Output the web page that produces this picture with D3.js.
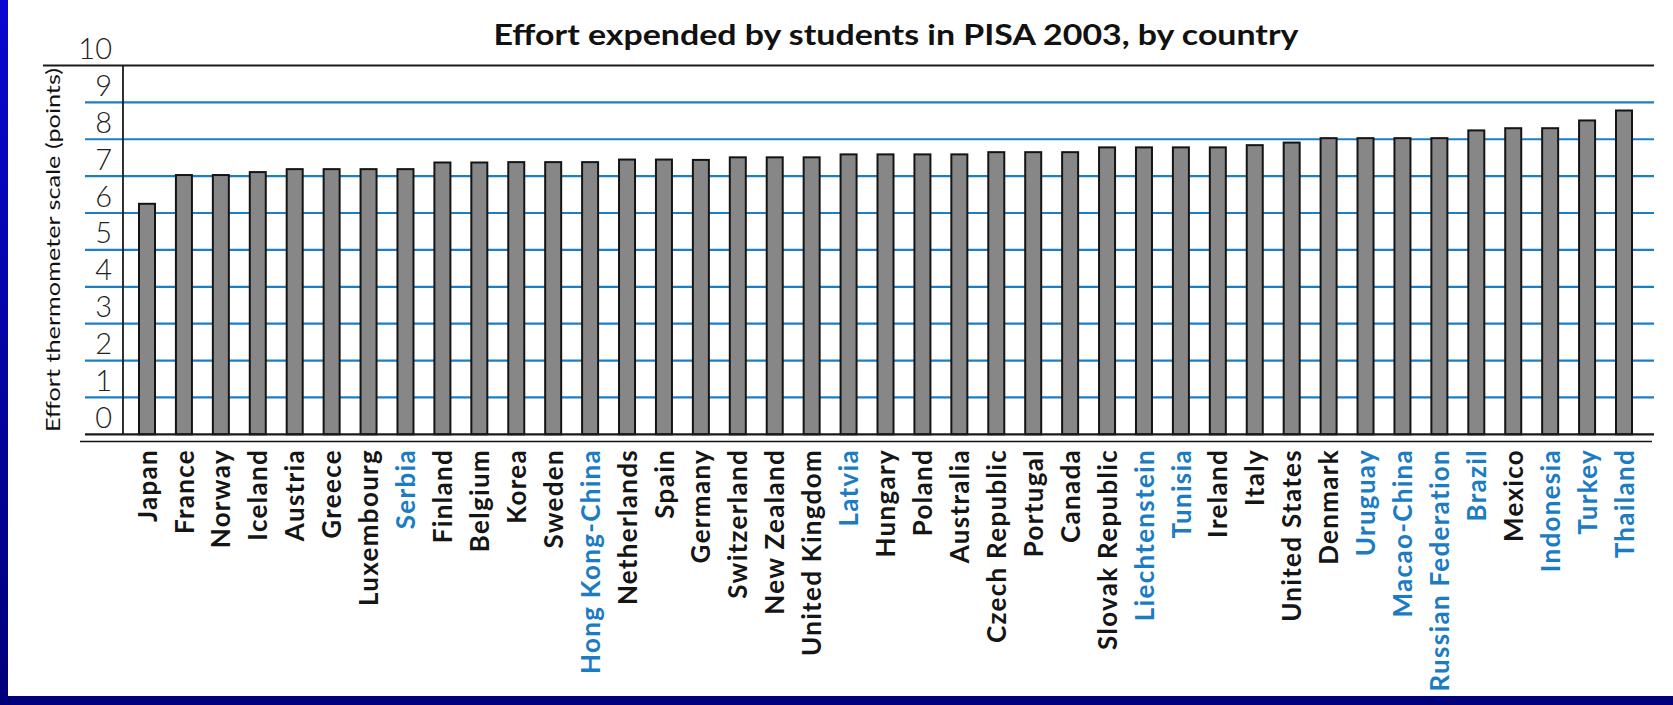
<!DOCTYPE html>
<html>
<head>
<meta charset="utf-8">
<script src="https://cdn.jsdelivr.net/npm/d3@7/dist/d3.min.js"></script>
<style>
  html, body { margin: 0; padding: 0; background: #0000b0; }
  svg { display: block; }
</style>
</head>
<body>
<script>
// Effort thermometer scores, PISA 2003, sorted from lowest to highest
const countries = [
  "Japan", "France", "Norway", "Iceland", "Austria", "Greece", "Luxembourg", "Serbia",
  "Finland", "Belgium", "Korea", "Sweden", "Hong Kong-China", "Netherlands", "Spain",
  "Germany", "Switzerland", "New Zealand", "United Kingdom", "Latvia", "Hungary", "Poland",
  "Australia", "Czech Republic", "Portugal", "Canada", "Slovak Republic", "Liechtenstein",
  "Tunisia", "Ireland", "Italy", "United States", "Denmark", "Uruguay", "Macao-China",
  "Russian Federation", "Brazil", "Mexico", "Indonesia", "Turkey", "Thailand"
];
const effort = [
  6.25, 7.03, 7.03, 7.11, 7.19, 7.19, 7.19, 7.19,
  7.37, 7.37, 7.38, 7.38, 7.38, 7.45, 7.45,
  7.44, 7.51, 7.51, 7.51, 7.59, 7.59, 7.59,
  7.59, 7.65, 7.65, 7.65, 7.78, 7.78,
  7.78, 7.78, 7.84, 7.91, 8.03, 8.03, 8.03,
  8.03, 8.24, 8.30, 8.30, 8.51, 8.78
];
// Partner (non-OECD) countries are labelled in blue
const partners = [
  "Serbia", "Hong Kong-China", "Latvia", "Liechtenstein", "Tunisia", "Uruguay",
  "Macao-China", "Russian Federation", "Brazil", "Indonesia", "Turkey", "Thailand"
];
const yTickValues = [0, 1, 2, 3, 4, 5, 6, 7, 8, 9, 10];
const gridValues = [1, 2, 3, 4, 5, 6, 7, 8, 9];

const titleText = "Effort expended by students in PISA 2003, by country";
const yTitleText = "Effort thermometer scale (points)";

const W = 1673, H = 705;
const data = countries.map((c, i) => ({ country: c, value: effort[i] }));

const svg = d3.select("body").append("svg")
  .attr("width", W).attr("height", H);

// Slide background and white panel
const defs = svg.append("defs");
const grad = defs.append("linearGradient").attr("id", "bg")
  .attr("x1", 0).attr("y1", 0).attr("x2", 0).attr("y2", 1);
grad.append("stop").attr("offset", "0%").attr("stop-color", "#0808d0");
grad.append("stop").attr("offset", "100%").attr("stop-color", "#00007a");
svg.append("rect").attr("width", W).attr("height", H).attr("fill", "url(#bg)");
svg.append("rect").attr("x", 8).attr("y", 0).attr("width", W - 8).attr("height", 696)
  .attr("fill", "#ffffff");

// Scales
const x = d3.scalePoint().domain(countries).range([147, 1624]);
const y = d3.scaleLinear().domain([0, 10]).range([434.3, 65.5]);
const barW = 16;
const gridLeft = 85, gridRight = 1654;

// Blue gridlines
svg.append("g").selectAll("line").data(gridValues).join("line")
  .attr("x1", gridLeft).attr("x2", gridRight)
  .attr("y1", d => y(d)).attr("y2", d => y(d))
  .attr("stroke", "#1c7fc6").attr("stroke-width", 2.2);

// Top frame line
svg.append("line")
  .attr("x1", 43).attr("x2", gridRight)
  .attr("y1", y(10)).attr("y2", y(10))
  .attr("stroke", "#1a1a1a").attr("stroke-width", 2);

// Bars
svg.append("g").selectAll("rect").data(data).join("rect")
  .attr("x", d => x(d.country) - barW / 2)
  .attr("y", d => y(d.value))
  .attr("width", barW)
  .attr("height", d => y(0) - y(d.value))
  .attr("fill", "#878787")
  .attr("stroke", "#141414")
  .attr("stroke-width", 2);

// Vertical axis line
svg.append("line")
  .attr("x1", 123).attr("x2", 123)
  .attr("y1", y(10)).attr("y2", y(0))
  .attr("stroke", "#1a1a1a").attr("stroke-width", 1.8);

// Baseline and the second rule beneath it
svg.append("line")
  .attr("x1", 85).attr("x2", gridRight)
  .attr("y1", y(0)).attr("y2", y(0))
  .attr("stroke", "#1a1a1a").attr("stroke-width", 2.2);
svg.append("line")
  .attr("x1", 80).attr("x2", 1652)
  .attr("y1", 441.5).attr("y2", 441.5)
  .attr("stroke", "#111111").attr("stroke-width", 1.6);

// Y tick labels sit in the band above each line
const step = y(0) - y(1);
const yAxis = d3.axisLeft(y).tickValues(yTickValues).tickSize(0).tickPadding(0)
  .tickFormat(d3.format("d"));
const gy = svg.append("g").attr("transform", "translate(112,0)").call(yAxis);
gy.select(".domain").remove();
gy.selectAll("text")
  .attr("x", 0)
  .attr("dy", null)
  .attr("y", -step / 2)
  .attr("dominant-baseline", "central")
  .attr("font-family", "Lato, 'Open Sans', sans-serif")
  .attr("font-size", 29)
  .attr("font-weight", 300)
  .attr("fill", "#222");

// Country labels, rotated
const xAxis = d3.axisBottom(x).tickSize(0).tickPadding(0);
const gx = svg.append("g").attr("transform", "translate(0,449)").call(xAxis);
gx.select(".domain").remove();
gx.selectAll("text")
  .attr("transform", "rotate(-90)")
  .attr("x", 0).attr("y", 0).attr("dy", "0.35em")
  .attr("text-anchor", "end")
  .attr("font-family", "Lato, 'Open Sans', sans-serif")
  .attr("font-size", 26)
  .attr("letter-spacing", 1.3)
  .attr("font-weight", 700)
  .attr("fill", d => partners.includes(d) ? "#1b7cc4" : "#151515");

// Title
svg.append("text")
  .attr("x", 896).attr("y", 45)
  .attr("text-anchor", "middle")
  .attr("font-family", "Lato, 'Open Sans', sans-serif")
  .attr("font-size", 29)
  .attr("font-weight", 700)
  .attr("fill", "#111")
  .attr("textLength", 805)
  .attr("lengthAdjust", "spacingAndGlyphs")
  .text(titleText);

// Vertical axis title
svg.append("text")
  .attr("transform", "translate(60,250) rotate(-90)")
  .attr("text-anchor", "middle")
  .attr("font-family", "Lato, 'Open Sans', sans-serif")
  .attr("font-size", 20)
  .attr("fill", "#111")
  .attr("textLength", 364)
  .attr("lengthAdjust", "spacingAndGlyphs")
  .text(yTitleText);
</script>
</body>
</html>
